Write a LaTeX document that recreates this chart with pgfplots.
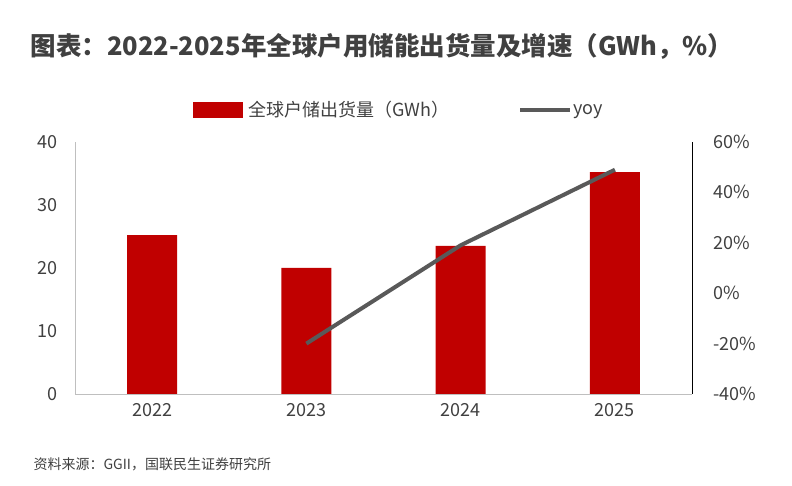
\documentclass[border=0pt]{standalone}
\usepackage{pgfplots}
\pgfplotsset{compat=1.18}
\usepackage{fontspec}
\setmainfont{Noto Sans CJK SC}
\definecolor{bred}{HTML}{C00000}
\definecolor{tg}{HTML}{404040}
\definecolor{lg}{HTML}{595959}
\begin{document}
\begin{tikzpicture}[x=1pt,y=1pt]
\path (0,0) rectangle (792,486);
\node[anchor=west,text=tg,font=\fontsize{25.5}{28}\selectfont\bfseries] at (27,440) {图表：2022-2025年全球户用储能出货量及增速（GWh，\%）};
\node[anchor=west,text=tg,font=\fontsize{14}{16}\selectfont] at (30,22) {资料来源：GGII，国联民生证券研究所};
\fill[bred] (193,368) rectangle (243,384);
\node[anchor=west,text=tg,font=\fontsize{18}{20}\selectfont] at (245,376) {全球户储出货量（GWh）};
\draw[lg,line width=4pt] (520,376) -- (570,376);
\node[anchor=west,text=tg,font=\fontsize{18}{20}\selectfont] at (570,374) {yoy};
\begin{axis}[at={(75pt,92pt)},anchor=south west,scale only axis,width=617pt,height=252pt,
  xmin=-0.5,xmax=3.5,ymin=0,ymax=40,ytick={0,10,20,30,40},
  xtick={0,1,2,3},xticklabels={2022,2023,2024,2025},
  axis y line*=left,axis x line*=bottom,
  axis line style={draw=black!25,-},tick style={draw=none},
  ticklabel style={text=tg,font=\fontsize{18}{20}\selectfont},
  /pgf/number format/assume math mode=true,
  yticklabel style={xshift=-14pt},xticklabel style={yshift=-6pt}]
\addplot[ybar,bar width=50pt,fill=bred,draw=none] coordinates {(0,25.2)(1,20.0)(2,23.5)(3,35.2)};
\end{axis}
\begin{axis}[at={(75pt,92pt)},anchor=south west,scale only axis,width=617pt,height=252pt,
  xmin=-0.5,xmax=3.5,ymin=-40,ymax=60,ytick={-40,-20,0,20,40,60},
  yticklabel={\pgfmathprintnumber{\tick}\%},
  axis y line*=right,axis x line=none,
  axis line style={draw=black,-},tick style={draw=none},
  ticklabel style={text=tg,font=\fontsize{18}{20}\selectfont},
  /pgf/number format/assume math mode=true,yticklabel style={xshift=18pt}]
\addplot[lg,line width=4pt] coordinates {(1,-20)(2,19)(3,49)};
\end{axis}
\end{tikzpicture}
\end{document}
